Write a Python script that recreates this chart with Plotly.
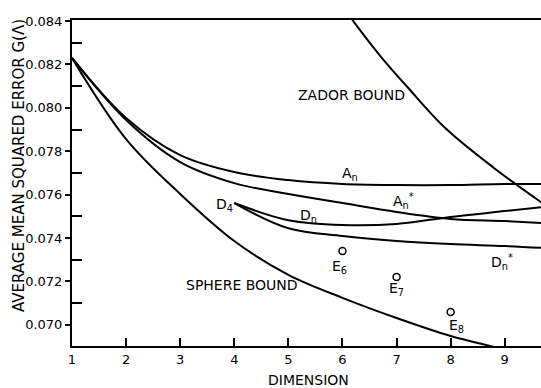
import plotly.graph_objects as go

# ---- data ----
n_sphere = [1, 2, 3, 4, 5, 6, 7, 8, 8.73, 9.0]
g_sphere = [0.08230, 0.07856, 0.07603, 0.07386, 0.07230, 0.07124, 0.07031, 0.06948, 0.06902, 0.06886]

n_lat = [1, 2, 3, 4, 5, 6, 7, 8, 9, 9.7]
g_an = [0.08230, 0.07953, 0.07782, 0.07704, 0.07667, 0.07649, 0.07644, 0.07644, 0.07649, 0.07649]
g_an_star = [0.08230, 0.07944, 0.07750, 0.07653, 0.07603, 0.07561, 0.07520, 0.07488, 0.07478, 0.07469]

n_d = [4, 5, 6, 7, 8, 9, 9.7]
g_dn = [0.07561, 0.07482, 0.07460, 0.07465, 0.07497, 0.07524, 0.07543]
g_dn_star = [0.07561, 0.07445, 0.07409, 0.07386, 0.07372, 0.07363, 0.07354]

n_zador = [6.0, 6.2, 6.7, 7.2, 7.9, 8.8, 9.7]
g_zador = [0.0847, 0.0840, 0.08239, 0.08096, 0.07907, 0.07723, 0.0756]

n_e = [6, 7, 8]
g_e = [0.07340, 0.07220, 0.07059]

y_ticks = [0.070, 0.072, 0.074, 0.076, 0.078, 0.080, 0.082, 0.084]
x_ticks = [1, 2, 3, 4, 5, 6, 7, 8, 9]

FONT = "DejaVu Sans"
line = dict(color="black", width=2, shape="spline", smoothing=1.0)

fig = go.Figure()
for xs, ys in [(n_sphere, g_sphere), (n_lat, g_an), (n_lat, g_an_star),
               (n_d, g_dn), (n_d, g_dn_star), (n_zador, g_zador)]:
    fig.add_trace(go.Scatter(x=xs, y=ys, mode="lines", line=line, hoverinfo="skip"))

fig.add_trace(go.Scatter(x=n_e, y=g_e, mode="markers",
                         marker=dict(symbol="circle-open", size=7, color="black",
                                     line=dict(width=1.5, color="black"))))

labels = [
    ("ZADOR BOUND", 6.16, 0.08059),
    ("SPHERE BOUND", 4.14, 0.07183),
    ("A<sub>n</sub>", 6.14, 0.07695),
    ("A<sub>n</sub><sup>*</sup>", 7.12, 0.07571),
    ("D<sub>n</sub>", 5.38, 0.07501),
    ("D<sub>4</sub>", 3.82, 0.07552),
    ("D<sub>n</sub><sup>*</sup>", 8.95, 0.07289),
    ("E<sub>6</sub>", 5.95, 0.07266),
    ("E<sub>7</sub>", 6.99, 0.07165),
    ("E<sub>8</sub>", 8.10, 0.06994),
]
for txt, x, y in labels:
    fig.add_annotation(x=x, y=y, text=txt, showarrow=False, xanchor="center",
                       yanchor="middle", font=dict(family=FONT, size=14, color="black"))

fig.add_annotation(xref="paper", yref="paper", x=(19 - 72) / 469, y=(346 - 166) / 326,
                   text="AVERAGE MEAN SQUARED ERROR G(Λ)", textangle=-90, showarrow=False,
                   xanchor="center", yanchor="middle",
                   font=dict(family=FONT, size=15, color="black"))
fig.add_annotation(xref="paper", yref="paper", x=(308 - 72) / 469, y=(346 - 380) / 326,
                   text="DIMENSION", showarrow=False, xanchor="center", yanchor="middle",
                   font=dict(family=FONT, size=14, color="black"))

fig.update_layout(
    width=541, height=388,
    margin=dict(l=72, r=0, t=20, b=42),
    paper_bgcolor="white", plot_bgcolor="white",
    showlegend=False,
    xaxis=dict(range=[1, 9.67], tickvals=x_ticks, ticks="inside", ticklen=8, tickwidth=1.5,
               tickcolor="black", showline=True, linecolor="black", linewidth=2, mirror=True,
               showgrid=False, zeroline=False, automargin=False,
               tickfont=dict(family=FONT, size=13, color="black")),
    yaxis=dict(range=[0.06902, 0.08405], tickvals=y_ticks, tickformat=".3f", ticks="outside",
               ticklen=5, tickwidth=1.5, tickcolor="black", showline=True, linecolor="black",
               linewidth=2, showgrid=False, zeroline=False, automargin=False,
               tickfont=dict(family=FONT, size=13, color="black"),
               minor=dict(tickvals=[0.071, 0.073, 0.075, 0.077, 0.079, 0.081, 0.083],
                          ticks="inside", ticklen=10, tickwidth=1.5, tickcolor="black",
                          showgrid=False)),
)

fig.write_html("out.html", config={"displayModeBar": False},
               post_script="document.body.style.margin='0';document.body.style.overflow='hidden';")
